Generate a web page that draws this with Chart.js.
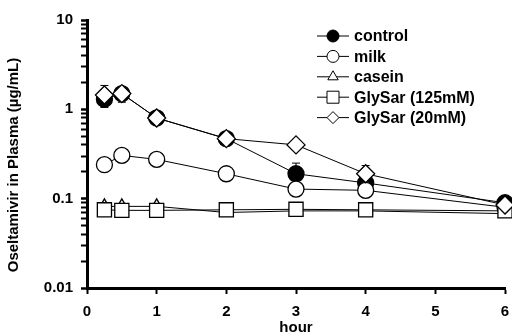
<!DOCTYPE html>
<html>
<head>
<meta charset="utf-8">
<script src="https://cdn.jsdelivr.net/npm/chart.js@4"></script>
<style>
  html, body { margin: 0; padding: 0; background: #fff; }
  #wrap { width: 512px; height: 336px; }
</style>
</head>
<body>
<div id="wrap"><canvas id="chart" width="512" height="336"></canvas></div>
<script>
// time points (hour)
const hours = [0.25, 0.5, 1, 2, 3, 4, 6];

// plasma concentrations (ug/mL)
const control   = [1.3, 1.5, 0.8, 0.47, 0.19, 0.15, 0.09];
const milk      = [0.24, 0.305, 0.275, 0.19, 0.128, 0.124, 0.08];
const casein    = [0.082, 0.082, 0.082, 0.07, 0.073, 0.073, 0.068];
const glySar125 = [0.075, 0.074, 0.074, 0.075, 0.076, 0.075, 0.073];
const glySar20  = [1.45, 1.5, 0.8, 0.47, 0.4, 0.19, 0.085];

// standard deviations (error bars)
const controlSd   = [0.1, 0.3, 0.05, 0.03, 0.06, 0.02, 0.004];
const milkSd      = [0.02, 0.02, 0.02, 0.01, 0.01, 0.02, 0.003];
const caseinSd    = [0.005, 0.005, 0.005, 0.004, 0.004, 0.004, 0.002];
const glySar125Sd = [0.004, 0.004, 0.004, 0.004, 0.01, 0.01, 0.002];
const glySar20Sd  = [0.4, 0.1, 0.05, 0.03, 0.03, 0.045, 0.003];

const xTicks = [0, 1, 2, 3, 4, 5, 6];
const yTitle = 'Oseltamivir in Plasma (\u00b5g/mL)';

const FONT = 'Liberation Sans, Arial, sans-serif';

function pts(ys) {
  return ys.map((y, i) => ({ x: hours[i], y: y }));
}

function series(label, ys, sd, style, fill, radius, order) {
  return {
    label: label,
    data: pts(ys),
    sd: sd,
    order: order,
    clip: false,
    borderColor: '#000',
    borderWidth: 1,
    pointStyle: style,
    pointRadius: radius,
    pointHoverRadius: radius,
    pointBackgroundColor: fill,
    pointBorderColor: '#000',
    pointBorderWidth: 1.3,
    fill: false,
    tension: 0
  };
}

// error bars drawn below the markers
const errorBars = {
  id: 'errorBars',
  beforeDatasetsDraw(chart) {
    const ctx = chart.ctx;
    const y = chart.scales.y;
    ctx.save();
    ctx.strokeStyle = '#000';
    ctx.lineWidth = 1;
    chart.data.datasets.forEach((ds, di) => {
      const meta = chart.getDatasetMeta(di);
      ds.data.forEach((p, i) => {
        const sd = ds.sd[i];
        if (!sd) return;
        const px = meta.data[i].x;
        const top = y.getPixelForValue(p.y + sd);
        const bot = y.getPixelForValue(Math.max(p.y - sd, 0.011));
        ctx.beginPath();
        ctx.moveTo(px, top); ctx.lineTo(px, bot);
        ctx.moveTo(px - 4, top); ctx.lineTo(px + 4, top);
        ctx.moveTo(px - 4, bot); ctx.lineTo(px + 4, bot);
        ctx.stroke();
      });
    });
    ctx.restore();
  }
};

// legend inside the plot (top right) + y axis title
const plotLegend = {
  id: 'plotLegend',
  afterDraw(chart) {
    const ctx = chart.ctx;
    const x0 = 317, x1 = 349, tx = 354;
    const y0 = 36, dy = 20.4;
    ctx.save();
    ctx.font = 'bold 16px ' + FONT;
    ctx.textBaseline = 'middle';
    chart.data.datasets.forEach((ds, i) => {
      const yy = y0 + i * dy;
      ctx.strokeStyle = '#000';
      ctx.lineWidth = 1;
      ctx.beginPath();
      ctx.moveTo(x0, yy); ctx.lineTo(x1, yy);
      ctx.stroke();
      ctx.fillStyle = ds.pointBackgroundColor;
      Chart.helpers.drawPoint(ctx, {
        pointStyle: ds.pointStyle,
        radius: ds.pointStyle === 'rect' ? 8.5 : 6,
        rotation: 0,
        borderWidth: 1
      }, (x0 + x1) / 2, yy);
      ctx.fillStyle = '#000';
      ctx.fillText(ds.label, tx, yy + 1);
    });

    // y title
    ctx.font = 'bold 15px ' + FONT;
    ctx.textAlign = 'center';
    ctx.translate(14, 165);
    ctx.rotate(-Math.PI / 2);
    ctx.fillText(yTitle, 0, 0);
    ctx.restore();
  }
};

function isMajor(v) {
  const l = Math.log10(v);
  return Math.abs(l - Math.round(l)) < 1e-9;
}

new Chart(document.getElementById('chart'), {
  type: 'line',
  data: {
    datasets: [
      series('control', control, controlSd, 'circle', '#000', 8, 4),
      series('milk', milk, milkSd, 'circle', '#fff', 8, 3),
      series('casein', casein, caseinSd, 'triangle', '#fff', 7.5, 2),
      series('GlySar (125mM)', glySar125, glySar125Sd, 'rect', '#fff', 10, 1),
      series('GlySar (20mM)', glySar20, glySar20Sd, 'rectRot', '#fff', 9, 0)
    ]
  },
  options: {
    responsive: false,
    animation: false,
    layout: { autoPadding: false, padding: { top: 20, right: 7, left: 0, bottom: 0 } },
    plugins: {
      legend: { display: false },
      tooltip: { enabled: false }
    },
    scales: {
      x: {
        type: 'linear',
        min: 0,
        max: 6,
        afterBuildTicks(s) { s.ticks = xTicks.map(v => ({ value: v })); },
        afterFit(s) { s.height = 48; s.paddingLeft = 0; s.paddingRight = 0; },
        border: { display: true, color: '#000', width: 3 },
        grid: { drawOnChartArea: false, drawTicks: true, tickLength: 6, tickWidth: 2, tickColor: '#000' },
        ticks: { color: '#000', font: { family: FONT, size: 15, weight: 'bold' }, padding: 9, maxRotation: 0 },
        title: { display: true, text: 'hour', color: '#000', padding: { top: 0, bottom: -1 },
                 font: { family: FONT, size: 15, weight: 'bold' } }
      },
      y: {
        type: 'logarithmic',
        min: 0.01,
        max: 10,
        afterBuildTicks(s) {
          const t = [];
          for (let d = 0.01; d < 10; d *= 10) {
            for (let m = 1; m < 10; m++) t.push({ value: +(d * m).toPrecision(6) });
          }
          t.push({ value: 10 });
          s.ticks = t;
        },
        afterFit(s) { s.width = 87; s.paddingTop = 0; s.paddingBottom = 0; },
        border: { display: true, color: '#000', width: 3 },
        grid: {
          drawOnChartArea: false, drawTicks: true, tickLength: 6, tickColor: '#000',
          tickWidth: c => (c.tick && isMajor(c.tick.value)) ? 2.5 : 2
        },
        ticks: {
          color: '#000', padding: 8, autoSkip: false,
          font: { family: FONT, size: 15, weight: 'bold' },
          callback: v => isMajor(v) ? String(v) : ''
        },
        title: { display: false }
      }
    }
  },
  plugins: [errorBars, plotLegend]
});
</script>
</body>
</html>
